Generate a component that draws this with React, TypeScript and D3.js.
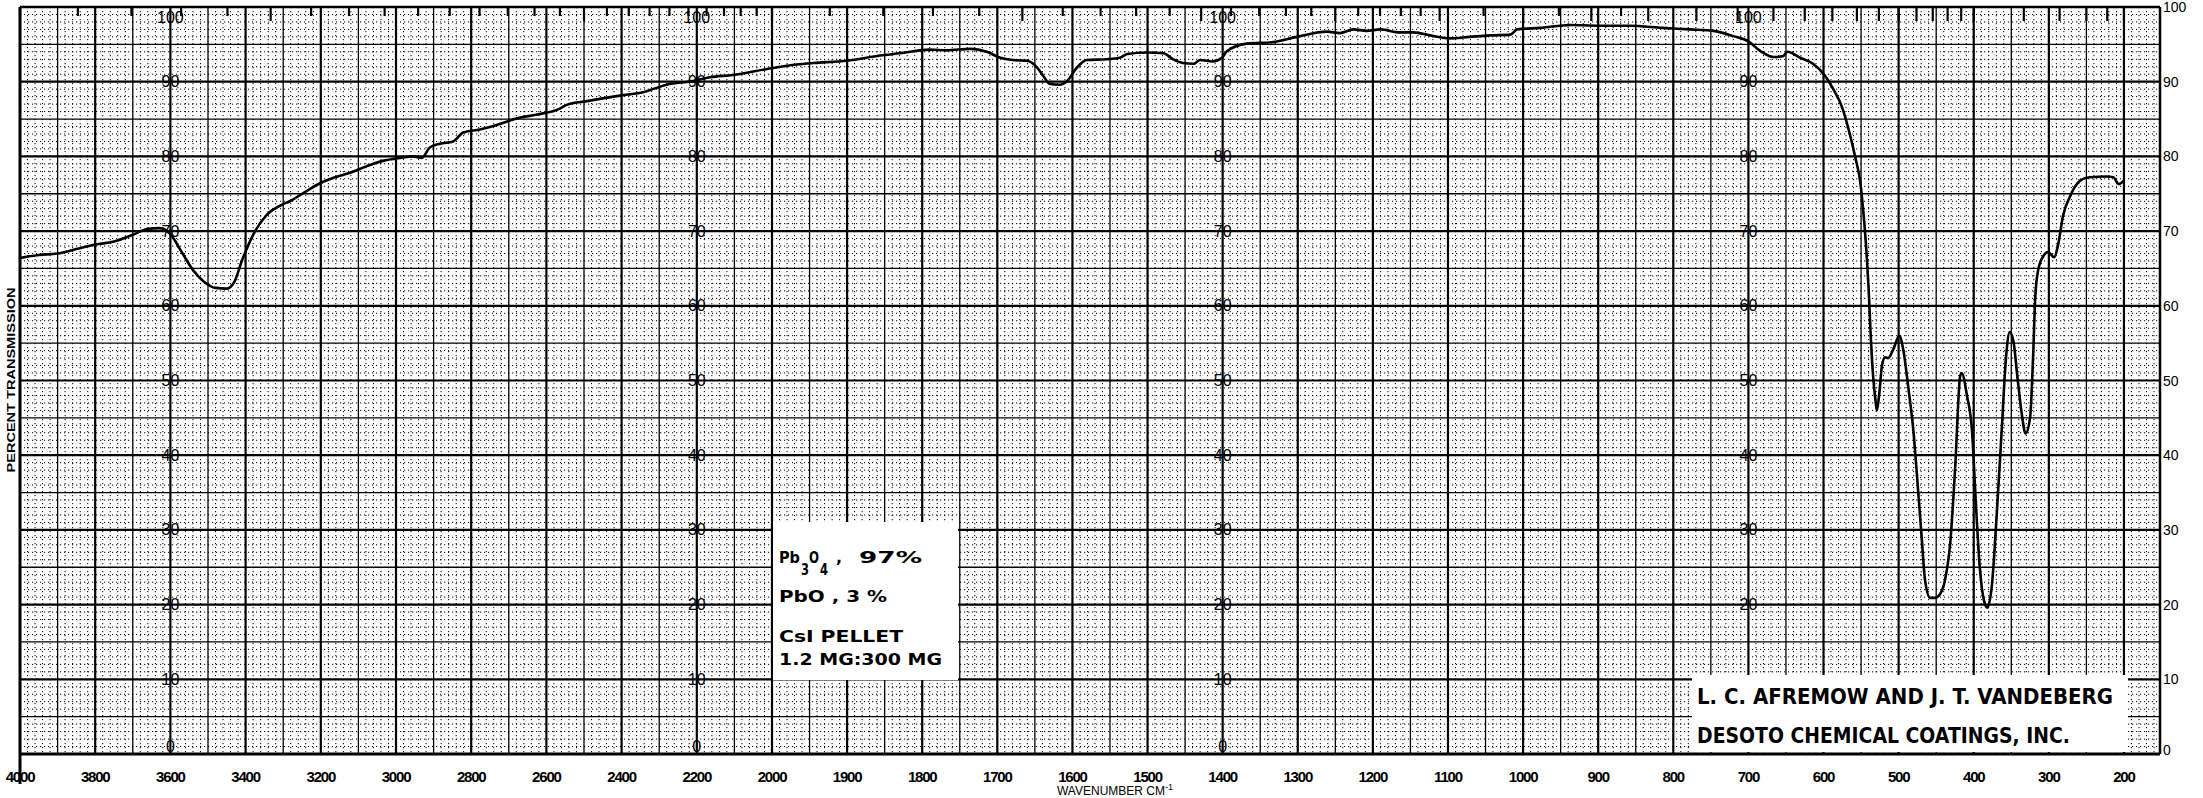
import React from 'react';
import * as d3 from 'd3';

const W = 2203;
const H = 798;

// Spectrum: wavenumber (cm-1) and percent transmission
const wavenumbers = [
  4000, 3950, 3900, 3850, 3800, 3750, 3700, 3660, 3630, 3600, 3570, 3540, 3510, 3480, 3450, 3430, 3410, 3380, 3343, 3300,
  3282, 3237, 3202, 3168, 3122, 3077, 3035, 2989, 2955, 2931, 2910, 2883, 2848, 2821, 2777, 2732, 2678, 2625, 2564, 2546,
  2492, 2396, 2343, 2280, 2210, 2165, 2104, 2013,
  1967, 1945, 1900, 1856, 1830, 1790, 1767, 1736, 1714, 1696, 1679, 1661, 1647, 1639, 1630, 1617, 1607, 1594, 1581, 1554,
  1537, 1527, 1501, 1479, 1466, 1453, 1439, 1430, 1413, 1401, 1394, 1368, 1333, 1301, 1261, 1244, 1226, 1208, 1190, 1164,
  1146, 1124, 1097, 1071, 1044, 1017, 1008, 977, 937, 901, 858, 814, 778, 747, 720, 700, 684, 667, 654, 648,
  631, 614, 598, 587, 575, 565, 558, 551, 547, 543, 540, 537, 534, 531, 529, 526, 522, 518, 514, 507,
  499, 494, 487, 480, 474, 469, 465, 458, 452, 445, 438, 431, 425, 418, 416, 409, 402, 398, 392, 386,
  382, 376, 369, 363, 357, 352, 347, 342, 336, 331, 325, 321, 318, 314, 307, 301, 293, 288, 281, 272,
  259, 246, 223, 214, 207, 201,
];
const transmission = [
  66.4, 66.8, 67.0, 67.6, 68.2, 68.6, 69.5, 70.3, 70.4, 69.6, 67.2, 64.8, 63.2, 62.4, 62.3, 63.2, 66.0, 69.5, 72.2, 73.6,
  74.0, 75.4, 76.4, 77.1, 77.8, 78.7, 79.4, 79.8, 80.0, 79.8, 81.2, 81.7, 82.0, 83.2, 83.6, 84.2, 85.1, 85.6, 86.4, 86.9,
  87.4, 88.2, 88.6, 89.6, 90.1, 90.6, 90.9, 91.7,
  92.3, 92.5, 92.8, 93.5, 93.8, 94.3, 94.2, 94.4, 94.0, 93.2, 92.9, 92.8, 91.9, 90.8, 89.7, 89.6, 90.1, 91.9, 92.9, 93.0,
  93.2, 93.7, 93.9, 93.8, 93.0, 92.5, 92.4, 92.9, 92.7, 93.2, 94.1, 95.1, 95.3, 96.0, 96.7, 96.5, 97.0, 96.8, 97.0, 96.6,
  96.6, 96.2, 95.8, 96.0, 96.2, 96.3, 97.0, 97.2, 97.6, 97.5, 97.5, 97.2, 97.0, 96.8, 96.1, 95.4, 94.1, 93.3, 93.4, 94.0,
  93.2, 92.4, 90.8, 89.0, 86.5, 83.0, 80.0, 76.5, 72.6, 67.5, 62.4, 55.7, 50.6, 47.5, 46.0, 48.0, 52.1, 53.1, 53.0, 54.2,
  56.0, 54.2, 49.0, 42.9, 35.2, 28.6, 23.4, 20.9, 20.9, 21.4, 23.4, 28.6, 37.8, 50.6, 51.0, 48.0, 42.9, 35.2, 25.0, 20.4,
  19.6, 22.4, 32.7, 42.9, 53.1, 56.5, 55.2, 50.6, 45.5, 42.9, 45.0, 53.1, 61.3, 64.9, 66.7, 67.2, 66.5, 68.0, 72.1, 74.6,
  76.7, 77.2, 77.3, 77.2, 76.3, 76.7,
];

const bottomTickLabels = [
  4000, 3800, 3600, 3400, 3200, 3000, 2800, 2600, 2400, 2200,
  2000, 1900, 1800, 1700, 1600, 1500, 1400, 1300, 1200, 1100,
  1000, 900, 800, 700, 600, 500, 400, 300, 200,
];
const percentTicks = [0, 10, 20, 30, 40, 50, 60, 70, 80, 90, 100];
const labelColumns = [3600, 2200, 1400, 700];
const micronTicks = [
  2.5, 2.6, 2.7, 2.8, 2.9, 3, 3.1, 3.2, 3.3, 3.4, 3.5, 3.6, 3.7, 3.8, 3.9, 4, 4.1, 4.2, 4.3, 4.4, 4.5, 4.6, 4.7, 4.8, 4.9, 5,
  5.2, 5.4, 5.6, 5.8, 6, 6.2, 6.4, 6.6, 6.8, 7, 7.2, 7.4, 7.6, 7.8, 8, 8.2, 8.4, 8.6, 8.8, 9, 9.5, 10,
  10.5, 11, 11.5, 12, 13, 14, 15, 16, 17, 18, 19, 20, 21, 22, 23, 24, 25, 30, 35, 40, 45, 50,
];

export default function App() {
  const x = d3.scaleLinear().domain([4000, 2000, 152]).range([20, 772, 2160]);
  const y = d3.scaleLinear().domain([0, 100]).range([754, 7]);
  const [x0, x1] = [x(4000), x(152)];
  const [yTop, yBot] = [y(100), y(0)];

  // boxes pasted onto the chart paper
  const sampleBox = { x: 773, y: 522, w: 185, h: 158 };
  const authorBox = { x: 1692, y: 675, w: 436, h: 77 };
  const hidden = (px: number, py: number) =>
    [sampleBox, authorBox].some((b) => px >= b.x - 8 && px <= b.x + b.w && py >= b.y - 8 && py <= b.y + b.h + 8);

  // vertical grid lines
  const vLines: { w: number; kind: string }[] = [];
  d3.range(3980, 2000, -20).forEach((w) =>
    vLines.push({ w, kind: w % 200 === 0 ? 'heavy' : w % 100 === 0 ? 'medium' : 'minor' })
  );
  d3.range(2000, 152, -10).forEach((w) =>
    vLines.push({ w, kind: w % 100 === 0 ? 'heavy' : w % 50 === 0 ? 'medium' : 'minor' })
  );
  const hLines = d3.range(1, 100).map((p) => ({ p, kind: p % 10 === 0 ? 'heavy' : p % 5 === 0 ? 'medium' : 'minor' }));

  const styleOf = (kind: string) =>
    kind === 'heavy'
      ? { strokeWidth: 2.2, strokeDasharray: undefined }
      : kind === 'medium'
      ? { strokeWidth: 1.3, strokeDasharray: undefined }
      : { strokeWidth: 1, strokeDasharray: '1.2,2.8' };

  const pts = wavenumbers.map((w, i) => [x(w), y(transmission[i])] as [number, number]);
  const line = d3.line().curve(d3.curveMonotoneX)(pts) || '';

  const pctLabelY = (p: number) => (p === 100 ? y(100) + 10 : p === 0 ? y(0) - 8 : y(p));

  const boldFont = '"DejaVu Sans", "Liberation Sans", sans-serif';

  return (
    <svg width={W} height={H} style={{ position: 'absolute', left: 0, top: 0, display: 'block', background: '#fff' }}>
      <rect x={0} y={0} width={W} height={H} fill="#fff" />
      {/* grid */}
      <g stroke="#000" fill="none">
        {vLines.map((l, i) => {
          const s = styleOf(l.kind);
          return (
            <line key={'v' + i} x1={x(l.w)} x2={x(l.w)} y1={yTop} y2={yBot}
              strokeWidth={s.strokeWidth} strokeDasharray={s.strokeDasharray} />
          );
        })}
        {hLines.map((l, i) => {
          const s = styleOf(l.kind);
          return (
            <line key={'h' + i} x1={x0} x2={x1} y1={y(l.p)} y2={y(l.p)}
              strokeWidth={s.strokeWidth} strokeDasharray={s.strokeDasharray} />
          );
        })}
        {/* frame */}
        <line x1={x0} x2={x1} y1={yTop} y2={yTop} strokeWidth={2.5} />
        <line x1={x0} x2={x1} y1={yBot} y2={yBot} strokeWidth={3} />
        <line x1={x0} x2={x0} y1={yTop} y2={yBot + 30} strokeWidth={3} />
        <line x1={x1} x2={x1} y1={yTop} y2={yBot} strokeWidth={2.5} />
        {/* micron ticks along the top */}
        {micronTicks.map((m, i) => {
          const w = 10000 / m;
          const len = Number.isInteger(m) ? 14 : 9;
          return <line key={'m' + i} x1={x(w)} x2={x(w)} y1={yTop} y2={yTop + len} strokeWidth={2.2} />;
        })}
      </g>

      {/* in-chart percent labels */}
      <g fontFamily='"Liberation Sans Narrow", "Liberation Sans", sans-serif' fontSize={16} fill="#000">
        {labelColumns.map((c) =>
          percentTicks
            .filter((p) => !hidden(x(c), pctLabelY(p)))
            .map((p) => (
              <text key={c + '-' + p} x={x(c)} y={pctLabelY(p)} textAnchor="middle" dominantBaseline="central">
                {p}
              </text>
            ))
        )}
      </g>

      {/* right axis labels */}
      <g fontFamily='"Liberation Sans", sans-serif' fontSize={14} fill="#000">
        {percentTicks.map((p) => (
          <text key={'r' + p} x={x1 + 3} y={p === 100 ? y(100) : p === 0 ? y(0) - 4 : y(p)} dominantBaseline="central">
            {p}
          </text>
        ))}
      </g>

      {/* spectrum */}
      <path d={line} fill="none" stroke="#000" strokeWidth={2.6} strokeLinejoin="round" strokeLinecap="round" />

      {/* sample box */}
      <rect x={sampleBox.x} y={sampleBox.y} width={sampleBox.w} height={sampleBox.h} fill="#fff" />
      <g fontFamily={boldFont} fontWeight="bold" fontSize={16} fill="#000">
        <text x={779} y={563} textLength={21} lengthAdjust="spacingAndGlyphs">Pb</text>
        <text x={801} y={575} fontSize={15} textLength={8} lengthAdjust="spacingAndGlyphs">3</text>
        <text x={809} y={563} textLength={10} lengthAdjust="spacingAndGlyphs">O</text>
        <text x={820} y={575} fontSize={15} textLength={8} lengthAdjust="spacingAndGlyphs">4</text>
        <text x={836} y={563}>,</text>
        <text x={859} y={563} textLength={63} lengthAdjust="spacingAndGlyphs">97%</text>
        <text x={779} y={602} textLength={108} lengthAdjust="spacingAndGlyphs">PbO , 3 %</text>
        <text x={779} y={642} textLength={124} lengthAdjust="spacingAndGlyphs">CsI PELLET</text>
        <text x={779} y={665} textLength={163} lengthAdjust="spacingAndGlyphs">1.2 MG:300 MG</text>
      </g>

      {/* author box */}
      <rect x={authorBox.x} y={authorBox.y} width={authorBox.w} height={authorBox.h} fill="#fff" />
      <g fontFamily={boldFont} fontWeight="bold" fontSize={21} fill="#000">
        <text x={1697} y={704} textLength={416} lengthAdjust="spacingAndGlyphs">L. C. AFREMOW AND J. T.  VANDEBERG</text>
        <text x={1697} y={743} textLength={373} lengthAdjust="spacingAndGlyphs">DESOTO CHEMICAL COATINGS, INC.</text>
      </g>

      {/* bottom axis labels */}
      <g fontFamily='"Liberation Sans", sans-serif' fontWeight="bold" fontSize={15} fill="#000">
        {bottomTickLabels.map((w) => (
          <text key={'b' + w} x={x(w)} y={782} textAnchor="middle" letterSpacing={-1.2}>
            {w}
          </text>
        ))}
      </g>
      <text x={1115} y={795} textAnchor="middle" fontFamily='"Liberation Sans", sans-serif' fontSize={12} fill="#000">
        WAVENUMBER CM
        <tspan fontSize={9} dy={-5}>-1</tspan>
      </text>

      {/* y axis title */}
      <text
        transform="translate(11,380) rotate(-90)"
        textAnchor="middle"
        dominantBaseline="central"
        fontFamily='"Liberation Sans", sans-serif'
        fontWeight="bold"
        fontSize={11}
        textLength={185}
        lengthAdjust="spacingAndGlyphs"
        fill="#000"
      >
        PERCENT TRANSMISSION
      </text>
    </svg>
  );
}
